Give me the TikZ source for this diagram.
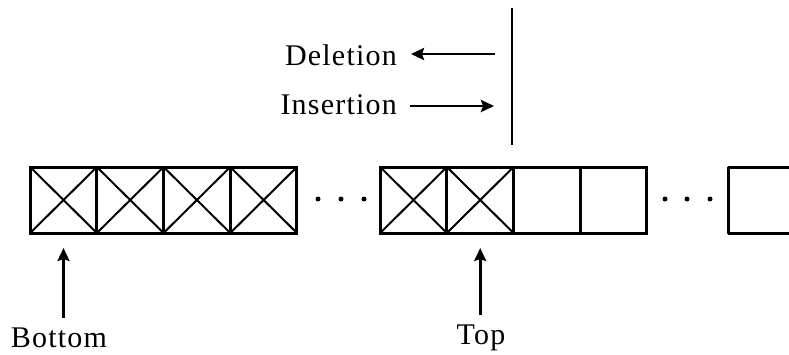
\documentclass[tikz,border=0pt]{standalone}
\usepackage{fontspec}
\setmainfont{Liberation Serif}
\usetikzlibrary{arrows.meta}
\tikzset{
  cell/.style={draw, line width=3pt, minimum width=66.7pt, minimum height=66pt, inner sep=0pt, outer sep=0pt},
  xline/.style={line width=2pt},
  lbl/.style={font=\fontsize{30}{32}\selectfont\addfontfeatures{LetterSpace=4}, inner sep=0pt},
  arr/.style={line width=2.8pt, -{Stealth[length=13pt,width=12pt,inset=2pt]}},
  dot/.style={circle, fill, inner sep=0pt, minimum size=5pt},
}
\begin{document}
\begin{tikzpicture}[x=1pt,y=-1pt]
\useasboundingbox (0,0) rectangle (789,354);
% first group
\foreach \i/\x in {1/63.5,2/130.2,3/196.9,4/263.6}{
  \node[cell] (c\i) at (\x,200) {};
  \draw[xline] (c\i.north west) -- (c\i.south east) (c\i.north east) -- (c\i.south west);
}
\node[dot] (p1) at (318,199) {};
\node[dot] (p2) at (341,199) {};
\node[dot] (p3) at (364,199) {};
% second group
\foreach \i/\x in {1/413.5,2/480.2,3/546.9,4/613.6}{
  \node[cell] (d\i) at (\x,200) {};
}
\foreach \i in {1,2}{
  \draw[xline] (d\i.north west) -- (d\i.south east) (d\i.north east) -- (d\i.south west);
}
\node[dot] (q1) at (665,199) {};
\node[dot] (q2) at (687,199) {};
\node[dot] (q3) at (710,199) {};
% last, cut-off box
\coordinate (e1) at (789,167);
\coordinate (e2) at (728,167);
\coordinate (e3) at (728,233);
\coordinate (e4) at (789,233);
\draw[line width=3pt, line join=round] (e1) -- (e2) -- (e3) -- (e4);
% vertical line
\coordinate (vt) at (512,8);
\coordinate (vb) at (512,145);
\draw[line width=2.2pt] (vt) -- (vb);
% labels
\node[lbl, anchor=east] (del) at (397,55) {Deletion};
\node[lbl, anchor=east] (ins) at (397,105) {Insertion};
\coordinate (dr) at (495,54);
\coordinate (ir) at (494,106);
\draw[arr] (dr) -- ([xshift=14pt]del.east |- dr);
\draw[arr] ([xshift=13pt]ins.east |- ir) -- (ir);
\node[lbl] (bot) at (59,338) {Bottom};
\node[lbl] (top) at (481,338) {Top};
\draw[arr] ([yshift=10pt]bot.north -| c1.south) -- ([yshift=-15pt]c1.south);
\draw[arr] ([yshift=10pt]top.north -| d2.south) -- ([yshift=-15pt]d2.south);
\end{tikzpicture}
\end{document}
